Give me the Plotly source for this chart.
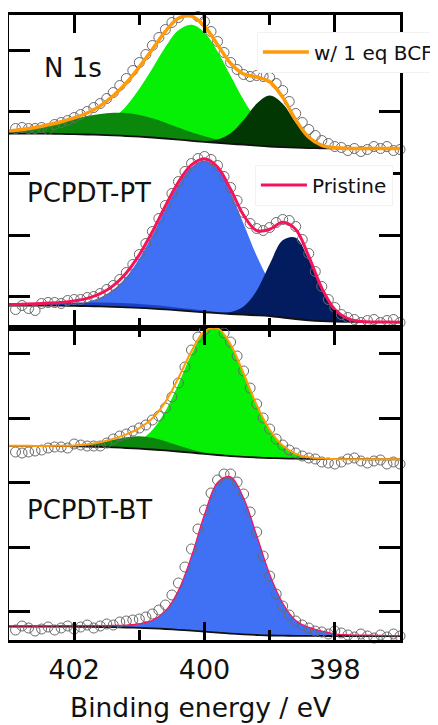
import numpy as np
import plotly.graph_objects as go

# ---------------- energy grids (eV) ----------------
E_FIT = [403.0, 402.8, 402.6, 402.4, 402.2, 402.0, 401.8, 401.6, 401.4, 401.2,
         401.0, 400.8, 400.6, 400.4, 400.2, 400.0, 399.8, 399.6, 399.4, 399.2,
         399.0, 398.8, 398.6, 398.4, 398.2, 398.0, 397.8, 397.6, 397.4, 397.2, 397.0]

E_DATA = [402.9, 402.8, 402.7, 402.6, 402.5, 402.4, 402.3, 402.2, 402.1, 402.0,
          401.9, 401.8, 401.7, 401.6, 401.5, 401.4, 401.3, 401.2, 401.1, 401.0,
          400.9, 400.8, 400.7, 400.6, 400.5, 400.4, 400.3, 400.2, 400.1, 400.0,
          399.9, 399.8, 399.7, 399.6, 399.5, 399.4, 399.3, 399.2, 399.1, 399.0,
          398.9, 398.8, 398.7, 398.6, 398.5, 398.4, 398.3, 398.2, 398.1, 398.0,
          397.9, 397.8, 397.7, 397.6, 397.5, 397.4, 397.3, 397.2, 397.1, 397.0]

# ---------------- PCPDT-PT, w/ 1 eq BCF (top panel, upper trace) ----------------
PT_BCF_DATA = [199, 200, 199, 199, 200, 198, 203, 205, 207, 210,
               213, 216, 220, 224, 229, 235, 242, 249, 257, 265,
               273, 282, 290, 298, 305, 310, 313, 314, 311, 306,
               296, 286, 275, 265, 258, 253, 251, 252, 251, 250,
               244, 237, 226, 214, 205, 198, 192, 187, 184, 181,
               180, 177, 179, 176, 178, 181, 179, 181, 177, 178]
PT_BCF_BG = [194.0, 194.0, 193.9, 193.8, 193.6, 193.3, 193.0, 192.6, 192.1, 191.5,
             190.8, 190.0, 189.0, 187.9, 186.7, 185.6, 184.6, 183.7, 182.8, 181.9,
             181.0, 180.3, 179.8, 179.4, 179.2, 179.1, 179.0, 179.0, 179.0, 179.0, 179.0]
PT_BCF_MAIN = [0, 0, 0, 0.1, 0.3, 1.0, 3.0, 8.0, 17.0, 30.0,
               48.0, 69.0, 91.4, 109.3, 116.0, 109.3, 91.4, 68.0, 44.8, 26.3,
               13.6, 6.3, 2.6, 0.9, 0.3, 0.1, 0, 0, 0, 0, 0]
PT_BCF_HIGH = [2.5, 4.0, 6.1, 8.8, 11.9, 15.3, 18.5, 21.0, 22.6, 23.0,
               21.8, 19.2, 15.8, 12.1, 8.6, 5.7, 3.5, 2.0, 1.1, 0.5,
               0.2, 0.1, 0, 0, 0, 0, 0, 0, 0, 0, 0]
PT_BCF_LOW = [0, 0, 0, 0, 0, 0, 0, 0, 0, 0,
              0, 0, 0, 0, 0.1, 0.7, 3.3, 10.6, 24.8, 41.8,
              50.9, 43.5, 25.2, 9.9, 2.6, 0.5, 0.1, 0, 0, 0, 0]

# ---------------- PCPDT-PT, pristine (top panel, lower trace) ----------------
PT_DATA = [18, 22, 19, 17, 24, 25, 25, 24, 27, 28,
           28, 30, 31, 34, 38, 42, 48, 55, 63, 73,
           84, 96, 109, 122, 134, 146, 156, 164, 169, 171,
           168, 162, 151, 140, 127, 115, 104, 99, 97, 100,
           105, 108, 107, 101, 88, 74, 56, 41, 28, 20,
           13, 10, 8, 5, 7, 8, 5, 7, 8, 5]
PT_BG = [22.0, 22.0, 22.0, 21.9, 21.8, 21.6, 21.4, 21.1, 20.7, 20.2,
         19.6, 18.9, 18.1, 17.2, 16.2, 15.2, 14.3, 13.5, 12.8, 12.2,
         11.4, 10.0, 8.5, 7.2, 6.3, 5.8, 5.6, 5.5, 5.4, 5.4, 5.3]
PT_MAIN = [0, 0, 0.1, 0.3, 0.7, 1.8, 4.2, 8.9, 17.2, 30.4,
           49.4, 73.5, 100.3, 125.6, 144.2, 151.9, 144.6, 121.7, 90.6, 59.6,
           34.7, 17.8, 8.1, 3.3, 1.2, 0.4, 0.1, 0, 0, 0, 0]
PT_HIGH = [1.0, 1.3, 1.7, 2.2, 2.6, 3.1, 3.5, 3.8, 4.0, 4.0,
           3.8, 3.5, 3.1, 2.6, 2.2, 1.7, 1.3, 1.0, 0.6, 0.5,
           0.3, 0.2, 0.1, 0, 0, 0, 0, 0, 0, 0, 0]
PT_LOW = [0, 0, 0, 0, 0, 0, 0, 0, 0, 0,
          0, 0, 0, 0, 0, 0, 0.3, 2.0, 8.3, 24.6,
          51.8, 77.2, 81.3, 60.6, 31.9, 11.9, 3.2, 0.6, 0.1, 0, 0]

# ---------------- PCPDT-BT, w/ 1 eq BCF (bottom panel, upper trace) ----------------
BT_BCF_DATA = [188, 187, 188, 189, 190, 192, 193, 193, 192, 196,
               195, 194, 194, 194, 197, 201, 204, 206, 209, 212,
               215, 220, 224, 232, 243, 257, 273, 290, 303, 310,
               314, 314, 307, 298, 284, 269, 252, 236, 222, 211,
               201, 195, 190, 187, 184, 182, 181, 178, 177, 176,
               178, 181, 182, 179, 177, 179, 180, 176, 178, 176]
BT_BCF_BG = [194.2, 194.2, 194.1, 194.0, 193.9, 193.7, 193.4, 193.1, 192.6, 192.0,
             191.3, 190.5, 189.6, 188.5, 187.3, 186.1, 185.0, 184.0, 183.2, 182.5,
             182.0, 181.6, 181.3, 181.1, 181.0, 180.9, 180.8, 180.8, 180.7, 180.7, 180.7]
BT_BCF_MAIN = [0, 0, 0, 0, 0, 0, 0, 0.2, 0.9, 2.9,
               8.1, 19.4, 39.3, 67.6, 98.4, 121.2, 126.3, 111.5, 83.3, 52.7,
               28.2, 12.8, 4.9, 1.6, 0.4, 0.1, 0, 0, 0, 0, 0]
BT_BCF_HIGH = [0, 0, 0, 0.1, 0.3, 0.8, 2.1, 4.4, 7.6, 10.7,
               12.4, 11.8, 9.2, 5.9, 3.1, 1.3, 0.5, 0.1, 0, 0,
               0, 0, 0, 0, 0, 0, 0, 0, 0, 0, 0]

# ---------------- PCPDT-BT, pristine (bottom panel, lower trace) ----------------
BT_DATA = [10, 14, 12, 9, 11, 13, 10, 12, 14, 11,
           13, 15, 12, 14, 16, 15, 18, 19, 20, 21,
           23, 26, 30, 35, 45, 57, 73, 91, 111, 130,
           147, 160, 166, 166, 158, 146, 128, 108, 84, 64,
           46, 34, 25, 19, 15, 12, 9, 8, 6, 9,
           7, 5, 3, 6, 4, 2, 5, 3, 6, 4]
BT_BG = [13.5, 13.5, 13.5, 13.4, 13.4, 13.3, 13.2, 13.0, 12.8, 12.5,
         12.1, 11.6, 11.0, 10.2, 9.3, 8.3, 7.3, 6.4, 5.6, 5.0,
         4.5, 4.3, 4.2, 4.1, 4.0, 4.0, 4.0, 4.0, 4.0, 4.0, 4.0]
BT_MAIN = [0.5, 0.6, 0.7, 0.8, 0.9, 1.0, 1.2, 1.4, 1.8, 2.5,
           4.0, 8.0, 18.1, 39.4, 74.4, 117.2, 150.2, 156.8, 136.5, 99.8,
           61.4, 32.7, 15.3, 8.5, 5.0, 2.0, 1.2, 0.9, 0.7, 0.5, 0.4]

# ---------------- tick positions ----------------
X_TICKS = [402, 400, 398]
X_TICK_TEXT = ["402", "400", "398"]
Y_TICKS_TOP = [31, 92, 154, 216, 277]
Y_TICKS_BOTTOM = [29, 93, 158, 222, 287]

# ---------------- colours ----------------
C_LIME = "#06F006"
C_GREEN = "#0B870B"
C_DKGREEN = "#023602"
C_BLUE = "#4070F4"
C_MIDBLUE = "#1C40C8"
C_NAVY = "#031B5F"
C_ORANGE = "#FF9A0A"
C_RED = "#F5145A"
C_CIRCLE = "#6a6a6a"

fig = go.Figure()


def add_component(bg, comp, color, xa, ya):
    bg = np.array(bg, dtype=float)
    top = bg + np.array(comp, dtype=float)
    fig.add_trace(go.Scatter(x=E_FIT, y=bg, mode="lines", line=dict(width=0, shape="spline"),
                             hoverinfo="skip", showlegend=False, xaxis=xa, yaxis=ya))
    fig.add_trace(go.Scatter(x=E_FIT, y=top, mode="lines", line=dict(width=0, shape="spline"),
                             fill="tonexty", fillcolor=color, hoverinfo="skip",
                             showlegend=False, xaxis=xa, yaxis=ya))


def add_spectrum(data, bg, comps, fit_color, fit_width, name, legend, xa, ya):
    for comp, color in comps:
        add_component(bg, comp, color, xa, ya)
    fig.add_trace(go.Scatter(x=E_FIT, y=bg, mode="lines",
                             line=dict(color="#111111", width=1.8, shape="spline"),
                             hoverinfo="skip", showlegend=False, xaxis=xa, yaxis=ya))
    fig.add_trace(go.Scatter(x=E_DATA, y=data, mode="markers",
                             marker=dict(symbol="circle-open", size=10,
                                         line=dict(color=C_CIRCLE, width=1), color=C_CIRCLE),
                             cliponaxis=False, showlegend=False, xaxis=xa, yaxis=ya))
    fit = np.array(bg, dtype=float)
    for comp, _ in comps:
        fit = fit + np.array(comp, dtype=float)
    fig.add_trace(go.Scatter(x=E_FIT, y=fit, mode="lines", name=name,
                             line=dict(color=fit_color, width=fit_width, shape="spline"),
                             showlegend=name is not None, legend=legend,
                             xaxis=xa, yaxis=ya))


# top panel
add_spectrum(PT_BCF_DATA, PT_BCF_BG,
             [(PT_BCF_MAIN, C_LIME), (PT_BCF_HIGH, C_GREEN), (PT_BCF_LOW, C_DKGREEN)],
             C_ORANGE, 3.5, "w/ 1 eq BCF", "legend", "x", "y")
add_spectrum(PT_DATA, PT_BG,
             [(PT_MAIN, C_BLUE), (PT_HIGH, C_MIDBLUE), (PT_LOW, C_NAVY)],
             C_RED, 3.0, "Pristine", "legend2", "x", "y")
# bottom panel
add_spectrum(BT_BCF_DATA, BT_BCF_BG,
             [(BT_BCF_MAIN, C_LIME), (BT_BCF_HIGH, C_GREEN)],
             C_ORANGE, 2.0, None, "legend", "x2", "y2")
add_spectrum(BT_DATA, BT_BG, [(BT_MAIN, C_BLUE)],
             C_RED, 1.2, None, "legend2", "x2", "y2")

FONT = "DejaVu Sans"

xcommon = dict(range=[403, 397], showline=True, linecolor="black", linewidth=2.5,
               mirror="ticks", ticks="inside", ticklen=18, tickwidth=2.5, tickcolor="black",
               tickmode="array", tickvals=X_TICKS, ticktext=X_TICK_TEXT,
               minor=dict(ticks="inside", ticklen=10, tickwidth=2.5, tickcolor="black",
                          tickmode="array", tickvals=[403, 401, 399, 397]),
               showgrid=False, zeroline=False, automargin=False)
ycommon = dict(range=[0, 312.5], showline=True, linecolor="black", linewidth=2.5,
               mirror="ticks", ticks="inside", ticklen=21, tickwidth=2.5, tickcolor="black",
               showticklabels=False, showgrid=False, zeroline=False, tickmode="array",
               automargin=False)

# the page body adds an 8 px offset, so the figure is 8 px smaller and margins compensate
fig.update_layout(
    width=430, height=717,
    margin=dict(l=1, r=38, t=7, b=85, autoexpand=False),
    paper_bgcolor="white", plot_bgcolor="white",
    font=dict(family=FONT, color="#111111"),
    xaxis=dict(**xcommon, anchor="y", showticklabels=False),
    yaxis=dict(**ycommon, domain=[0.5, 1.0], anchor="x", tickvals=Y_TICKS_TOP),
    xaxis2=dict(**xcommon, anchor="y2", showticklabels=True,
                tickfont=dict(size=27, family=FONT, color="#111111"), ticklabelstandoff=4),
    yaxis2=dict(**ycommon, domain=[0.0, 0.5], anchor="x2", tickvals=Y_TICKS_BOTTOM),
    legend=dict(x=0.634, xanchor="left", y=0.9408, yanchor="middle",
                bgcolor="white", bordercolor="#f2f2f2", borderwidth=1,
                font=dict(size=20, family=FONT, color="#111111"), itemwidth=46),
    legend2=dict(x=0.629, xanchor="left", y=0.728, yanchor="middle",
                 bgcolor="white", bordercolor="#f2f2f2", borderwidth=1,
                 font=dict(size=20, family=FONT, color="#111111"), itemwidth=46),
    annotations=[
        dict(text="N 1s", x=0.0844, y=0.9152, xref="paper", yref="paper",
             xanchor="left", yanchor="middle", showarrow=False,
             font=dict(size=26, family=FONT, color="#111111")),
        dict(text="PCPDT-PT", x=0.0409, y=0.7152, xref="paper", yref="paper",
             xanchor="left", yanchor="middle", showarrow=False,
             font=dict(size=26, family=FONT, color="#111111")),
        dict(text="PCPDT-BT", x=0.0409, y=0.208, xref="paper", yref="paper",
             xanchor="left", yanchor="middle", showarrow=False,
             font=dict(size=26, family=FONT, color="#111111")),
        dict(text="Binding energy / eV", x=0.491, y=-0.1072, xref="paper", yref="paper",
             xanchor="center", yanchor="middle", showarrow=False,
             font=dict(size=26.5, family=FONT, color="#111111")),
    ],
)

fig.write_html("out.html")
